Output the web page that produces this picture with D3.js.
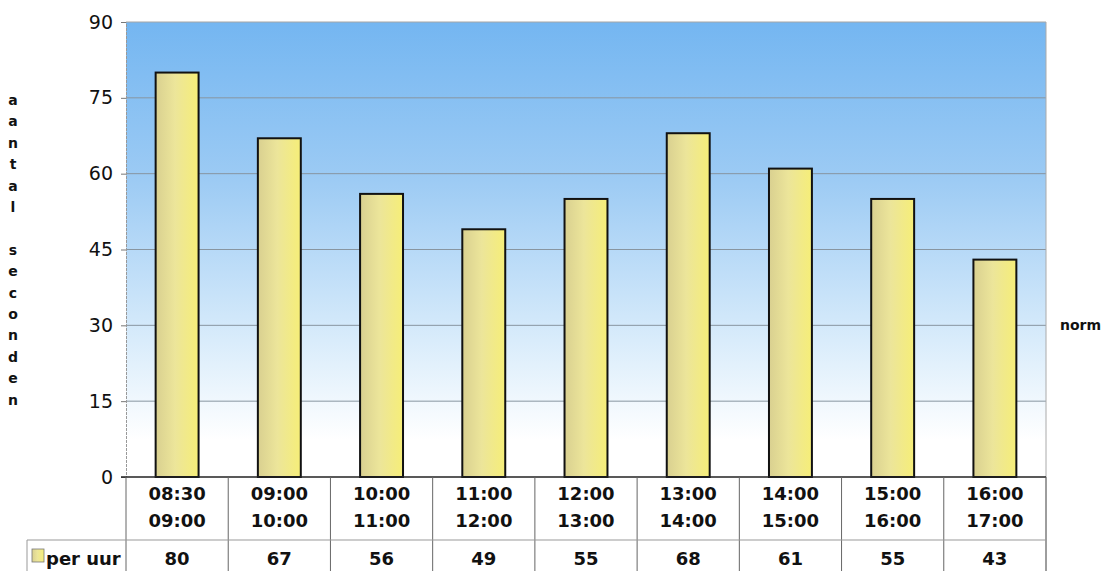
<!DOCTYPE html>
<html>
<head>
<meta charset="utf-8">
<script src="https://cdn.jsdelivr.net/npm/d3@7"></script>
<style>
  body { margin: 0; background: #fff; }
  svg { display: block; font-family: "DejaVu Sans", Verdana, sans-serif; }
</style>
</head>
<body>
<div id="chart"></div>
<script>
// tijdvakken (twee regels per vak)
const slotsFrom = ["08:30", "09:00", "10:00", "11:00", "12:00", "13:00", "14:00", "15:00", "16:00"]
const slotsTo   = ["09:00", "10:00", "11:00", "12:00", "13:00", "14:00", "15:00", "16:00", "17:00"]
// aantal seconden per uur
const perUur = [80, 67, 56, 49, 55, 68, 61, 55, 43]
const yTicks = [0, 15, 30, 45, 60, 75, 90]
const yLabel = "aantal seconden"
const seriesName = "per uur"
const normLabel = "norm"
const normValue = 30

const W = 1101, H = 571
const plot = { left: 126, right: 1046, top: 22, bottom: 477 }

const svg = d3.select("#chart").append("svg")
    .attr("width", W)
    .attr("height", H)

const defs = svg.append("defs")

// achtergrond verloop blauw -> wit
const bg = defs.append("linearGradient").attr("id", "bg")
    .attr("x1", 0).attr("y1", 0).attr("x2", 0).attr("y2", 1)
bg.append("stop").attr("offset", "0%").attr("stop-color", "#74b6f1")
bg.append("stop").attr("offset", "35%").attr("stop-color", "#9dcbf4")
bg.append("stop").attr("offset", "70%").attr("stop-color", "#d9ecfb")
bg.append("stop").attr("offset", "92%").attr("stop-color", "#ffffff")

// staaf verloop
const barGrad = defs.append("linearGradient").attr("id", "bar")
    .attr("x1", 0).attr("y1", 0).attr("x2", 1).attr("y2", 0)
barGrad.append("stop").attr("offset", "0%").attr("stop-color", "#d9d090")
barGrad.append("stop").attr("offset", "45%").attr("stop-color", "#ece59a")
barGrad.append("stop").attr("offset", "100%").attr("stop-color", "#f6ee78")

const x = d3.scaleBand()
    .domain(slotsFrom.map((d, i) => i))
    .range([plot.left, plot.right])
    .padding(0)

const y = d3.scaleLinear()
    .domain([0, 90])
    .range([plot.bottom, plot.top])

// plot achtergrond
svg.append("rect")
    .attr("x", plot.left).attr("y", plot.top)
    .attr("width", plot.right - plot.left)
    .attr("height", plot.bottom - plot.top)
    .attr("fill", "url(#bg)")

// rasterlijnen
svg.append("g")
    .selectAll("line")
    .data(yTicks.filter(d => d > 0))
    .join("line")
    .attr("x1", plot.left).attr("x2", plot.right)
    .attr("y1", d => y(d)).attr("y2", d => y(d))
    .attr("stroke", d => d === 90 ? "#a5a5a5" : "#8895a0")
    .attr("stroke-width", 1)

// rechterrand
svg.append("line")
    .attr("x1", plot.right).attr("x2", plot.right)
    .attr("y1", plot.top).attr("y2", H)
    .attr("stroke", "#aaa")

// y-as
const yAxis = svg.append("g")
    .attr("transform", `translate(${plot.left},0)`)
    .call(d3.axisLeft(y).tickValues(yTicks).tickSize(5).tickPadding(8))
yAxis.select(".domain").attr("stroke", "#999").attr("stroke-dasharray", "3,1")
yAxis.selectAll(".tick line").attr("stroke", "#777")
yAxis.selectAll(".tick text")
    .attr("font-size", 19)
    .attr("fill", "#111")
    .attr("font-family", "DejaVu Sans, Verdana, sans-serif")

// staven
const barW = x.bandwidth() * 0.42
svg.append("g")
    .selectAll("rect")
    .data(perUur)
    .join("rect")
    .attr("x", (d, i) => x(i) + (x.bandwidth() - barW) / 2)
    .attr("y", d => y(d))
    .attr("width", barW)
    .attr("height", d => y(0) - y(d))
    .attr("fill", "url(#bar)")
    .attr("stroke", "#111")
    .attr("stroke-width", 2)

// x-as lijn
svg.append("line")
    .attr("x1", plot.left - 5).attr("x2", plot.right)
    .attr("y1", y(0)).attr("y2", y(0))
    .attr("stroke", "#222")
    .attr("stroke-width", 1.5)

// datatabel
const rowSplit = 540
const table = svg.append("g")
table.selectAll("line.col")
    .data(d3.range(slotsFrom.length + 1))
    .join("line")
    .attr("class", "col")
    .attr("x1", i => i < slotsFrom.length ? x(i) : plot.right)
    .attr("x2", i => i < slotsFrom.length ? x(i) : plot.right)
    .attr("y1", y(0)).attr("y2", H)
    .attr("stroke", "#666")
table.append("line")
    .attr("x1", 27).attr("x2", plot.right)
    .attr("y1", rowSplit).attr("y2", rowSplit)
    .attr("stroke", "#999")
table.append("line")
    .attr("x1", 27).attr("x2", 27)
    .attr("y1", rowSplit).attr("y2", H)
    .attr("stroke", "#999")

const cx = i => x(i) + x.bandwidth() / 2
const tableFont = 18
table.selectAll("text.from")
    .data(slotsFrom)
    .join("text")
    .attr("x", (d, i) => cx(i)).attr("y", 500)
    .attr("text-anchor", "middle")
    .attr("font-size", tableFont).attr("font-weight", 600)
    .attr("fill", "#111")
    .text(d => d)
table.selectAll("text.to")
    .data(slotsTo)
    .join("text")
    .attr("x", (d, i) => cx(i)).attr("y", 527)
    .attr("text-anchor", "middle")
    .attr("font-size", tableFont).attr("font-weight", 600)
    .attr("fill", "#111")
    .text(d => d)
table.selectAll("text.val")
    .data(perUur)
    .join("text")
    .attr("x", (d, i) => cx(i)).attr("y", 565)
    .attr("text-anchor", "middle")
    .attr("font-size", tableFont).attr("font-weight", 600)
    .attr("fill", "#111")
    .text(d => d)

// legenda in tabel
table.append("rect")
    .attr("x", 32).attr("y", 549)
    .attr("width", 12).attr("height", 13)
    .attr("fill", "url(#bar)")
    .attr("stroke", "#777")
    .attr("stroke-width", 0.8)
table.append("text")
    .attr("x", 46).attr("y", 565)
    .attr("font-size", tableFont).attr("font-weight", 600)
    .attr("fill", "#111")
    .text(seriesName)

// norm label
svg.append("text")
    .attr("x", 1060).attr("y", y(normValue) + 5)
    .attr("font-size", 14).attr("font-weight", "bold")
    .attr("fill", "#111")
    .text(normLabel)

// y-as titel, letter voor letter verticaal
svg.append("g")
    .selectAll("text")
    .data(yLabel.split(""))
    .join("text")
    .attr("x", 13)
    .attr("y", (d, i) => 105 + i * 21.4)
    .attr("text-anchor", "middle")
    .attr("font-size", 14).attr("font-weight", "bold")
    .attr("fill", "#111")
    .text(d => d)
</script>
</body>
</html>
